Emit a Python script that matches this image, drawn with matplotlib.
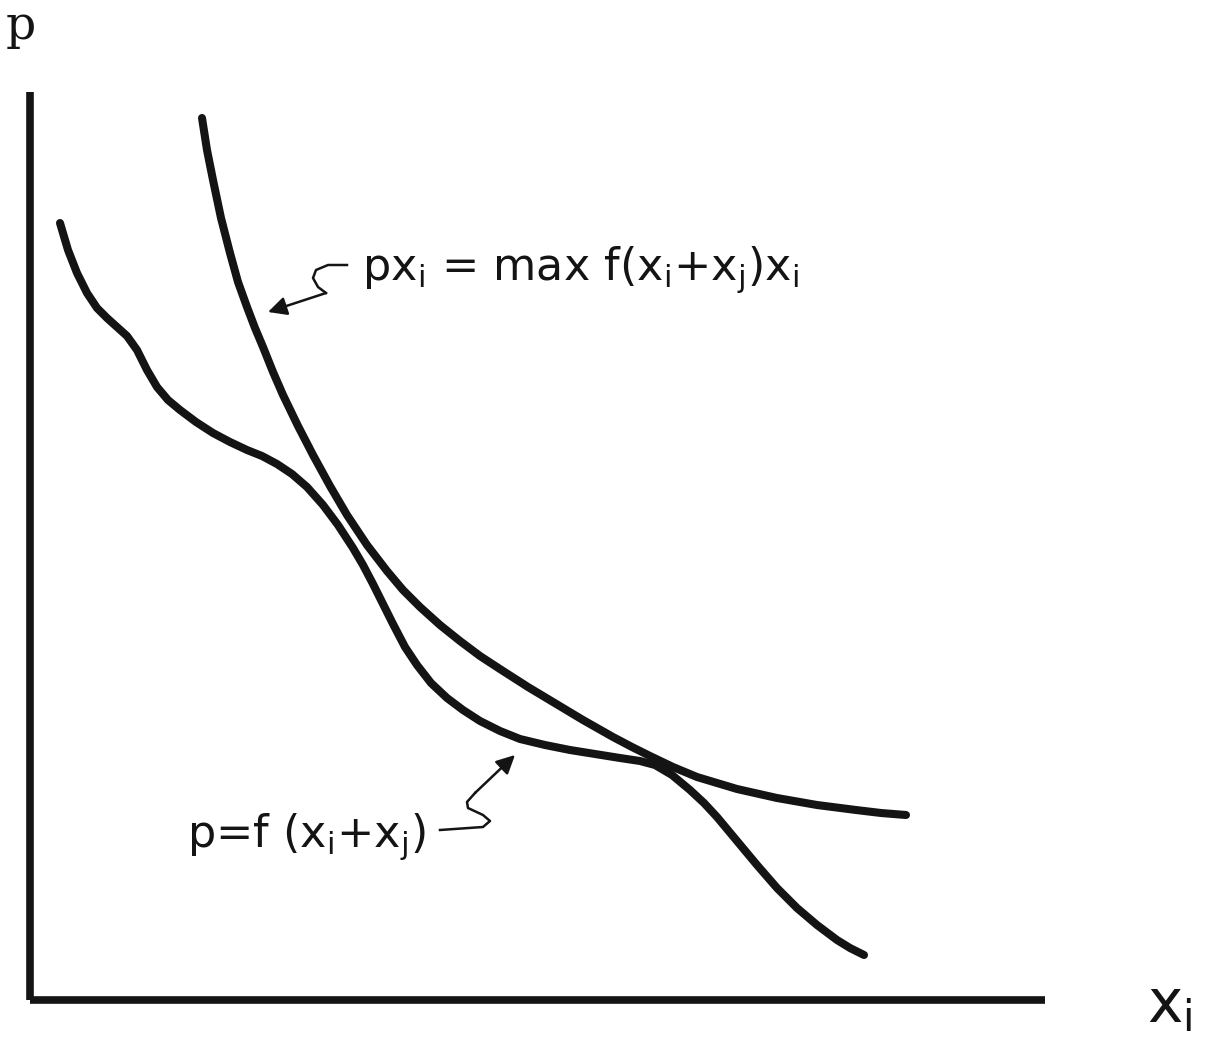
import matplotlib
matplotlib.use("Agg")
import matplotlib.pyplot as plt

# values; units are arbitrary (no ticks): x_i 0..1015, p 0..908
envelope_x = [172, 177, 183, 191, 200, 208, 217, 225, 233, 243, 253, 268, 283, 300, 317,
              337, 357, 373, 390, 410, 430, 450, 473, 498, 523, 553, 583, 602, 620, 643,
              667, 707, 747, 787, 826, 851, 876]
envelope_p = [882, 850, 820, 782, 747, 718, 693, 672, 653, 628, 605, 574, 545, 514, 485,
              455, 429, 410, 393, 375, 359, 344, 329, 313, 298, 280, 263, 253, 244, 233,
              223, 211, 202, 195, 190, 187, 185]

demand_x = [30, 38, 47, 57, 67, 77, 87, 97, 107, 117, 127, 138, 150, 166, 183, 200, 217,
            232, 247, 262, 277, 293, 308, 323, 333, 343, 353, 363, 375, 387, 401, 417,
            433, 450, 470, 490, 515, 540, 565, 590, 610, 625, 642, 660, 674, 687, 707,
            727, 747, 767, 787, 807, 820, 834]
demand_p = [777, 750, 727, 707, 692, 682, 673, 664, 650, 630, 613, 600, 590, 578, 567, 558,
            550, 544, 536, 526, 513, 495, 475, 452, 435, 416, 396, 376, 353, 335, 317, 302,
            290, 279, 269, 261, 255, 250, 246, 242, 239, 235, 225, 210, 197, 183, 159,
            135, 112, 92, 75, 60, 52, 45]

# labels and their squiggly pointers
envelope_label = "px$_\\mathregular{i}$ = max f(x$_\\mathregular{i}$+x$_\\mathregular{j}$)x$_\\mathregular{i}$"
envelope_label_xy = (332, 720)
envelope_squiggle_x = [317, 298, 286, 283, 288, 296]
envelope_squiggle_p = [735, 735, 730, 722, 713, 707]
envelope_tip = (238, 688)

demand_label = "p=f (x$_\\mathregular{i}$+x$_\\mathregular{j}$)"
demand_label_xy = (157, 153)
demand_squiggle_x = [410, 453, 460, 453, 438, 437, 445]
demand_squiggle_p = [170, 173, 179, 185, 192, 198, 207]
demand_tip = (485, 245)

ink = "#141414"

fig = plt.figure(figsize=(12.1, 10.43), dpi=100)
ax = fig.add_axes([30 / 1210, 43 / 1043, 1015 / 1210, 908 / 1043])
ax.set_xlim(0, 1015)
ax.set_ylim(0, 908)

for side in ["top", "right"]:
    ax.spines[side].set_visible(False)
for side in ["left", "bottom"]:
    ax.spines[side].set_linewidth(5.5)
    ax.spines[side].set_color(ink)
    ax.spines[side].set_capstyle("butt")
ax.set_xticks([])
ax.set_yticks([])

# the two curves
ax.plot(envelope_x, envelope_p, color=ink, lw=5.8, solid_joinstyle="round", solid_capstyle="round")
ax.plot(demand_x, demand_p, color=ink, lw=5.8, solid_joinstyle="round", solid_capstyle="round")

# pointers
ax.plot(envelope_squiggle_x, envelope_squiggle_p, color=ink, lw=1.8, solid_joinstyle="round")
ax.annotate("", xy=envelope_tip, xytext=(envelope_squiggle_x[-1], envelope_squiggle_p[-1]),
            arrowprops=dict(arrowstyle="-|>", color=ink, lw=1.8, mutation_scale=28,
                            shrinkA=0, shrinkB=0))
ax.plot(demand_squiggle_x, demand_squiggle_p, color=ink, lw=1.8, solid_joinstyle="round")
ax.annotate("", xy=demand_tip, xytext=(demand_squiggle_x[-1], demand_squiggle_p[-1]),
            arrowprops=dict(arrowstyle="-|>", color=ink, lw=1.8, mutation_scale=28,
                            shrinkA=0, shrinkB=0))

ax.text(envelope_label_xy[0], envelope_label_xy[1], envelope_label, fontsize=32,
        family="DejaVu Sans", color=ink, ha="left", va="baseline")
ax.text(demand_label_xy[0], demand_label_xy[1], demand_label, fontsize=32,
        family="DejaVu Sans", color=ink, ha="left", va="baseline")

# axis names
fig.text(21 / 1210, 1 - 4 / 1043, "p", fontsize=34, family="DejaVu Serif",
         color=ink, ha="center", va="top")
ax.text(1.1005, -0.0242, "x$_\\mathregular{i}$", transform=ax.transAxes, fontsize=43,
        family="DejaVu Sans", color=ink, ha="left", va="baseline")

fig.savefig("out.png", dpi=100)
